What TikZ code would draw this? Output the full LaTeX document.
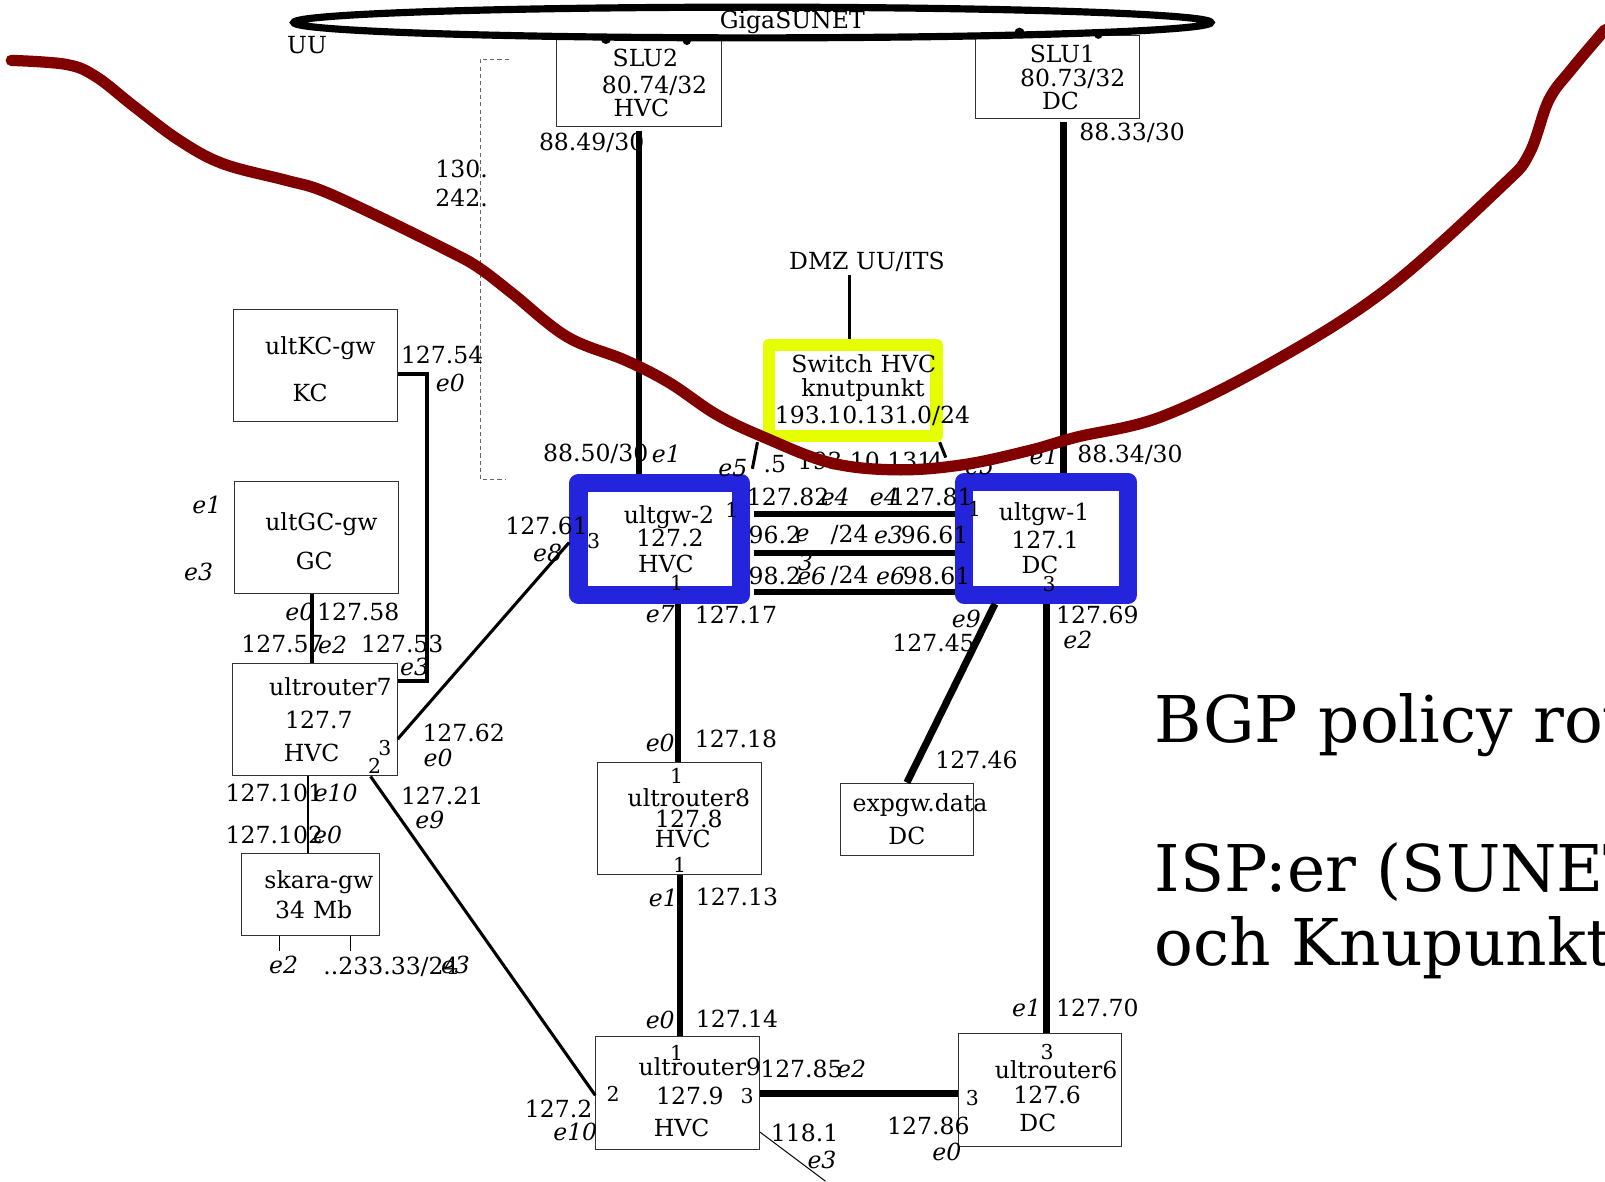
\documentclass[tikz,border=0pt]{standalone}
\usepackage{fontspec}
\setmainfont{DejaVu Serif}
\usetikzlibrary{shapes.geometric}

\definecolor{gwblue}{RGB}{36,36,220}
\definecolor{swyellow}{RGB}{229,255,0}
\definecolor{uured}{RGB}{128,0,0}

\newcommand\labfont{\fontsize{23}{24}\selectfont}
\newcommand\portfont{\fontsize{20}{21}\selectfont}
\newcommand\bigfont{\fontsize{63}{70}\selectfont}
\newcommand\nudged[2]{\mbox{\hspace{#1}#2}}

\tikzset{
  lab/.style={font=\labfont, inner sep=0pt},
  ifc/.style={font=\labfont\itshape, inner sep=0pt},
  port/.style={font=\portfont, inner sep=0pt},
  box/.style={draw=black!80, line width=1pt, fill=white, align=center,
    inner xsep=6pt, inner ysep=0pt, font=\labfont},
  gw/.style={box, draw=gwblue, line width=18pt, line join=round},
  link/.style={line width=6pt},
  thinlink/.style={line width=3pt},
}

\begin{document}
\begin{tikzpicture}[x=1pt, y=-1pt]
  \useasboundingbox (0,0) rectangle (1568,1154);

  % UU edge, dashed
  \draw[black!60, line width=1pt, dash pattern=on 4pt off 3pt]
    (497,58) -- (469,58) -- (469,468) -- (494,468);

  % partly hidden behind ultrouter9
  \node[lab] (ip21b) at (553,1083) {127.21};

  % boxes
  \node[box, text width=149pt, minimum height=86pt] (slu2) at (624.5,81)
    {\nudged{12pt}{SLU2}\\[2pt]\nudged{30pt}{80.74/32}\\[-1pt]\nudged{4pt}{HVC}};
  \node[box, text width=148pt, minimum height=81pt] (slu1) at (1033,75.5)
    {\nudged{10pt}{SLU1}\\\nudged{30pt}{80.73/32}\\[-2pt]\nudged{6pt}{DC}};
  \node[box, text width=148pt, minimum height=110pt] (kcgw) at (308,357)
    {\rule{0pt}{25.5pt}\nudged{10pt}{ultKC-gw}\\[22pt]\nudged{-10pt}{KC}};
  \node[box, text width=148pt, minimum height=110pt] (gcgw) at (309,525)
    {\rule{0pt}{25.5pt}\nudged{10pt}{ultGC-gw}\\[14pt]\nudged{-4pt}{GC}};
  \node[box, text width=149pt, minimum height=110pt] (ur7) at (307.5,703)
    {\nudged{30pt}{ultrouter7}\\[9pt]\nudged{8pt}{127.7}\\[8pt]\nudged{-6pt}{HVC}};
  \node[box, text width=123pt, minimum height=80pt] (skara) at (303.5,874)
    {\nudged{16pt}{skara-gw}\\[6pt]\nudged{6pt}{34 Mb}};
  \node[gw, text width=147pt, minimum height=109pt] (gw2) at (644.5,526.5)
    {\nudged{18pt}{ultgw-2}\\[-1pt]\nudged{20pt}{127.2}\\[1pt]\nudged{12pt}{HVC}};
  \node[gw, text width=148pt, minimum height=110pt] (gw1) at (1022,526)
    {\nudged{-4pt}{ultgw-1}\\[3pt]\nudged{-2pt}{127.1}\\[1pt]\nudged{-12pt}{DC}};
  \node[box, draw=swyellow, line width=12pt, line join=round, text width=152pt, minimum height=89pt] (sw) at (833,381.5)
    {\nudged{16pt}{Switch HVC}\\[-1pt]\nudged{20pt}{knutpunkt}\\[3pt]\mbox{193.10.131.0/24}};
  \node[box, text width=148pt, minimum height=109pt] (ur8) at (664,799.5)
    {\nudged{18pt}{ultrouter8}\\[-4pt]\nudged{18pt}{127.8}\\[-4pt]\nudged{6pt}{HVC}};
  \node[box, inner xsep=12pt, text width=106pt, minimum height=71pt] (expgw) at (886,800.5)
    {\mbox{expgw.data}\\[8pt]DC};
  \node[box, text width=148pt, minimum height=110pt] (ur9) at (662,1068)
    {\rule{0pt}{25.5pt}\nudged{36pt}{ultrouter9}\\[4pt]\nudged{24pt}{127.9}\\[8pt]\nudged{8pt}{HVC}};
  \node[box, text width=148pt, minimum height=110pt] (ur6) at (1016,1065)
    {\rule{0pt}{29.5pt}\nudged{30pt}{ultrouter6}\\\nudged{14pt}{127.6}\\[3pt]\nudged{-4pt}{DC}};

  % GigaSUNET
  \node[draw, ellipse, line width=7pt, minimum width=896pt, minimum height=30pt, inner sep=0pt] (sunet) at (735,22) {};
  \fill (592,38) circle (5pt);
  \fill (671,40) circle (4pt);
  \fill (996,32) circle (5pt);
  \fill (1073,34) circle (4pt);

  % links
  \draw[link, shorten <=3pt] (slu2.south) -- (slu2.south |- gw2.north);
  \draw[link, shorten <=3pt] ([xshift=6pt]slu1.south) -- ([xshift=6pt]slu1.south |- gw1.north);
  \coordinate (kcbend) at (417,665);
  \draw[line width=4pt] ([yshift=-8pt]kcgw.east) -| (kcbend) -- (kcbend -| ur7.east);
  \draw[line width=4pt] ([xshift=-4pt]gcgw.south) -- ([xshift=-4pt]gcgw.south |- ur7.north);
  \draw[thinlink] ([yshift=-19pt]ur7.east) -- ([yshift=-3.5pt]gw2.west);
  \draw[thinlink] ([xshift=54.5pt]ur7.south) -- ([yshift=-2pt]ur9.west);
  \draw[line width=2pt] ([xshift=-6.5pt]ur7.south) -- ([xshift=-6.5pt]ur7.south |- skara.north);
  \draw[line width=1pt] ([xshift=-30.5pt]skara.south) -- ++(0,15);
  \draw[line width=1pt] ([xshift=38.5pt]skara.south) -- ++(0,15);
  \draw[thinlink] ([xshift=-5pt]sw.south west) -- ([xshift=2pt,yshift=5pt]gw2.north east);
  \draw[thinlink] ([xshift=-3pt]sw.south east) -- ([xshift=-9pt,yshift=15pt]gw1.north west);
  \node[lab] (dmz) at (847,256) {DMZ UU/ITS};
  \draw[thinlink] ([xshift=-17pt, yshift=-3pt]dmz.south) -- ([xshift=-17pt]dmz.south |- sw.north);
  \draw[link] ([xshift=4pt,yshift=24.5pt]gw2.east) -- ([yshift=24.5pt]gw2.east -| gw1.west);
  \draw[link] ([xshift=4pt,yshift=-13.5pt]gw2.east) -- ([yshift=-13.5pt]gw2.east -| gw1.west);
  \draw[link] ([xshift=4pt,yshift=-51.5pt]gw2.east) -- ([yshift=-51.5pt]gw2.east -| gw1.west);
  \draw[link] ([xshift=17.5pt]gw2.south) -- ([xshift=17.5pt]gw2.south |- ur8.north);
  \draw[link] (ur8.south) -- (ur8.south |- ur9.north);
  \draw[line width=7pt] (ur9.east) -- (ur9.east -| ur6.west);
  \draw[line width=1pt] ([yshift=-38pt]ur9.east) -- ++(64,48);
  \draw[line width=7pt] (gw1.south) -- (gw1.south |- ur6.north);
  \draw[line width=7pt] ([xshift=-50pt]gw1.south) -- (expgw.north);

  % labels
  \node[lab] (giga) at (774,22) {GigaSUNET};
  \node[lab] (uu) at (300,44) {UU};
  \node[lab] (ip49) at (578,140) {88.49/30};
  \node[lab] (ip33) at (1106,130) {88.33/30};
  \node[lab] (net130) at (451,165) {130.};
  \node[lab] (net242) at (451,193) {242.};
  \node[lab] (ip54) at (432,347) {127.54};
  \node[ifc] (kc-e0) at (440,374) {e0};
  \node[ifc] (gc-e1) at (202,493) {e1};
  \node[ifc] (gc-e3) at (194,559) {e3};
  \node[ifc] (gc-e0) at (293,598) {e0};
  \node[lab] (ip58) at (350,598) {127.58};
  \node[lab] (ip57) at (276,629) {127.57};
  \node[ifc] (ur7-e2) at (325,630) {e2};
  \node[lab] (ip53) at (393,629) {127.53};
  \node[ifc] (ur7-e3) at (405,652) {e3};
  \node[lab] (ip62) at (453,716) {127.62};
  \node[ifc] (ur7-e0) at (428,740) {e0};
  \node[lab] (ip21) at (432,778) {127.21};
  \node[ifc] (ur7-e9) at (420,801) {e9};
  \node[lab] (ip101) at (268,775) {127.101};
  \node[ifc] (ur7-e10) at (328,775) {e10};
  \node[lab] (ip102) at (268,816) {127.102};
  \node[ifc] (sk-e0) at (320,816) {e0};
  \node[ifc] (sk-e2) at (277,943) {e2};
  \node[lab] (sknet) at (382,945) {..233.33/24};
  \node[ifc] (sk-e3) at (445,943) {e3};
  \node[lab] (ip50) at (582,443) {88.50/30};
  \node[ifc] (gw2-e1) at (651,443) {e1};
  \node[lab] (ip61) at (534,514) {127.61};
  \node[ifc] (gw2-e8) at (535,540) {e8};
  \node[ifc] (gw2-e5) at (716,457) {e5};
  \node[lab] (sw5) at (757,453) {.5};
  \node[lab] (swnet) at (845,450) {193.10.131};
  \node[lab] (sw4) at (914,450) {4};
  \node[ifc] (gw1-e5) at (957,455) {e5};
  \node[ifc] (gw1-e1) at (1020,445) {e1};
  \node[lab] (ip34) at (1104,444) {88.34/30};
  \node[lab] (ip82) at (770,485) {127.82};
  \node[ifc] (gw2-e4) at (816,485) {e4};
  \node[ifc] (gw1-e4) at (864,485) {e4};
  \node[lab] (ip81) at (910,485) {127.81};
  \node[lab] (net96a) at (757,523) {96.2};
  \node[ifc] (gw2-e3) at (784,523) {e};
  \node[ifc] (gw2-e3b) at (787,549) {3};
  \node[lab] (net96) at (830,523) {/24};
  \node[ifc] (gw1-e3) at (868,523) {e3};
  \node[lab] (net96b) at (913,523) {96.61};
  \node[lab] (net98a) at (757,563) {98.2};
  \node[ifc] (gw2-e6) at (793,563) {e6};
  \node[lab] (net98) at (830,563) {/24};
  \node[ifc] (gw1-e6) at (870,563) {e6};
  \node[lab] (net98b) at (915,563) {98.61};
  \node[ifc] (gw2-e7) at (645,600) {e7};
  \node[lab] (ip17) at (719,601) {127.17};
  \node[ifc] (ur8-e0) at (645,726) {e0};
  \node[lab] (ip18) at (719,722) {127.18};
  \node[ifc] (ur8-e1) at (648,877) {e1};
  \node[lab] (ip13) at (720,876) {127.13};
  \node[ifc] (ur9-e0) at (645,996) {e0};
  \node[lab] (ip14) at (720,995) {127.14};
  \node[ifc] (ur9-e10) at (562,1106) {e10};
  \node[lab] (ip85) at (783,1044) {127.85};
  \node[ifc] (ur9-e2) at (832,1044) {e2};
  \node[lab] (ip118) at (786,1107) {118.1};
  \node[ifc] (ur9-e3) at (803,1133) {e3};
  \node[lab] (ip86) at (907,1100) {127.86};
  \node[ifc] (ur6-e0) at (925,1125) {e0};
  \node[ifc] (gw1-e9) at (944,605) {e9};
  \node[lab] (ip45) at (912,628) {127.45};
  \node[lab] (ip46) at (954,742) {127.46};
  \node[lab] (ip69) at (1072,601) {127.69};
  \node[ifc] (gw1-e2) at (1053,625) {e2};
  \node[ifc] (ur6-e1) at (1003,985) {e1};
  \node[lab] (ip70) at (1072,985) {127.70};

  % port numbers
  \node[port] (gw2-p1) at (715,498) {1};
  \node[port] (gw2-p3) at (580,529) {3};
  \node[port] (gw2-p1b) at (661,569) {1};
  \node[port] (gw1-p1) at (952,497) {1};
  \node[port] (gw1-p3) at (1025,571) {3};
  \node[port] (ur7-p3) at (376,731) {3};
  \node[port] (ur7-p2) at (366,748) {2};
  \node[port] (ur8-p1) at (661,758) {1};
  \node[port] (ur8-p1b) at (664,845) {1};
  \node[port] (ur9-p1) at (661,1029) {1};
  \node[port] (ur9-p2) at (599,1069) {2};
  \node[port] (ur9-p3) at (730,1071) {3};
  \node[port] (ur6-p3) at (950,1073) {3};
  \node[port] (ur6-p3b) at (1023,1028) {3};

  % title
  \node[lab, font=\bigfont, anchor=west] (title1) at (1128,708) {BGP policy rou};
  \node[lab, font=\bigfont, anchor=west] (title2) at (1128,852) {ISP:er (SUNET};
  \node[lab, font=\bigfont, anchor=west] (title3) at (1128,926) {och Knupunkt};

  % UU border
  \draw[uured, line width=11pt, line cap=round] plot[smooth, tension=0.6] coordinates {
    (11,59) (65,63) (94,75) (131,104) (175,137) (218,160) (279,176) (314,186)
    (371,212) (436,244) (467,261) (501,287) (554,329) (611,352) (654,374)
    (700,405) (746,427) (811,452) (876,459) (941,454) (1006,440) (1052,427)
    (1135,407) (1241,355) (1354,283) (1467,182) (1494,150) (1513,98)
    (1535,68) (1568,29)};
\end{tikzpicture}
\end{document}
